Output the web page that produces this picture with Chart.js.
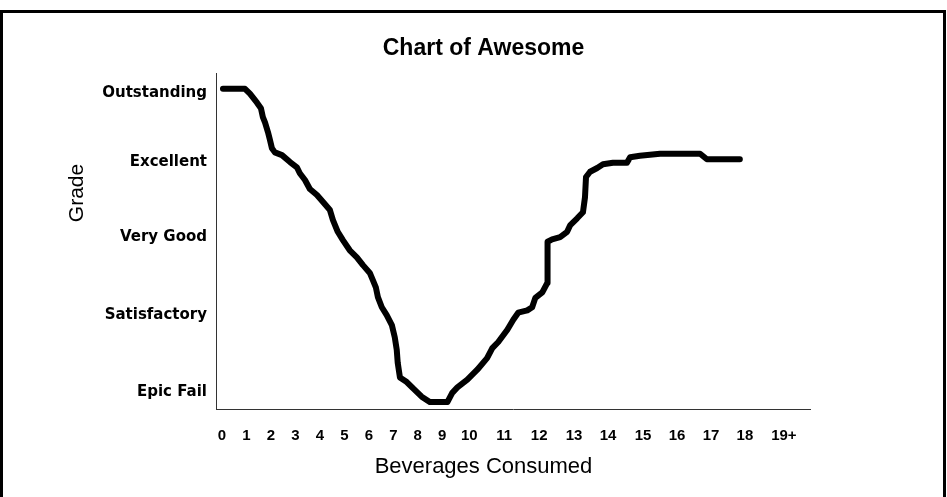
<!DOCTYPE html>
<html>
<head>
<meta charset="utf-8">
<title>Chart of Awesome</title>
<script src="https://cdn.jsdelivr.net/npm/chart.js@4.4.1/dist/chart.umd.min.js"></script>
<style>
  html, body { margin: 0; padding: 0; background: #fff; }
  canvas { display: block; }
</style>
</head>
<body>
<canvas id="awesome" width="947" height="497"></canvas>
<script>
// points: beverages (x) against grade (y, 0 = Epic Fail ... 4 = Outstanding)
const beverages = [
  0.04, 0.94, 1.14, 1.43, 1.59, 1.67, 1.76, 1.88, 1.96, 2.04, 2.16, 2.45, 2.78, 3.06, 3.18, 3.39,
  3.59, 3.88, 4.12, 4.41, 4.53, 4.73, 4.94, 5.22, 5.51, 5.76, 6.04, 6.16, 6.29, 6.37, 6.53, 6.73,
  6.94, 7.06, 7.14, 7.18, 7.27, 7.55, 7.80, 8.16, 8.49, 9.19, 9.37, 9.56, 9.93, 10.23, 10.51, 10.66,
  10.83, 11.09, 11.26, 11.40, 11.66, 11.80, 11.89, 12.09, 12.23, 12.24, 12.37, 12.60, 12.80, 12.89,
  13.09, 13.26, 13.32, 13.35, 13.47, 13.68, 13.85, 14.14, 14.54, 14.63, 14.91, 15.50, 16.68, 16.88, 17.85
];
const grades = [
  4.06, 4.06, 3.99, 3.86, 3.78, 3.65, 3.57, 3.43, 3.32, 3.20, 3.14, 3.10, 3.00, 2.93, 2.85, 2.76,
  2.64, 2.56, 2.47, 2.36, 2.23, 2.07, 1.96, 1.83, 1.74, 1.64, 1.54, 1.45, 1.35, 1.23, 1.10, 1.00,
  0.87, 0.71, 0.55, 0.38, 0.19, 0.13, 0.05, -0.06, -0.13, -0.13, -0.01, 0.06, 0.16, 0.29, 0.44, 0.57,
  0.65, 0.81, 0.94, 1.03, 1.06, 1.10, 1.22, 1.29, 1.41, 1.94, 1.97, 2.00, 2.07, 2.16, 2.25, 2.33,
  2.53, 2.80, 2.87, 2.92, 2.97, 2.99, 2.99, 3.07, 3.09, 3.12, 3.12, 3.04, 3.04
];
const drinkLabels = ['0', '1', '2', '3', '4', '5', '6', '7', '8', '9', '10',
  '11', '12', '13', '14', '15', '16', '17', '18', '19+'];
const gradeLabels = ['Epic Fail', 'Satisfactory', 'Very Good', 'Excellent', 'Outstanding'];

// the original axes are drawn by hand, so the unit steps are not all the same size.
// this linear scale lets every unit step have its own width.
class UnevenScale extends Chart.LinearScale {
  offsetOf(v) {
    const sizes = this.options.unitSizes;
    if (v <= 0) return v * sizes[0];
    let acc = 0;
    for (let i = 0; i < sizes.length; i++) {
      if (v <= i + 1) return acc + (v - i) * sizes[i];
      acc += sizes[i];
    }
    return acc + (v - sizes.length) * sizes[sizes.length - 1];
  }
  getPixelForValue(value) {
    if (value === null || value === undefined) return NaN;
    const a = this.offsetOf(this.min);
    const b = this.offsetOf(this.max);
    return this.getPixelForDecimal((this.offsetOf(value) - a) / (b - a));
  }
}
UnevenScale.id = 'uneven';
UnevenScale.defaults = Chart.LinearScale.defaults;
Chart.register(UnevenScale);

const outerFrame = {
  id: 'outerFrame',
  afterDraw(chart) {
    const ctx = chart.ctx;
    ctx.save();
    ctx.strokeStyle = '#000';
    ctx.lineWidth = 3;
    ctx.strokeRect(1.5, 11.5, 943, 600);
    // y axis caption sits higher than the axis middle in the original
    ctx.fillStyle = '#000';
    ctx.font = '21px "Liberation Sans", Arial, sans-serif';
    ctx.textAlign = 'center';
    ctx.textBaseline = 'middle';
    ctx.translate(77, 193);
    ctx.rotate(-Math.PI / 2);
    ctx.fillText('Grade', 0, 0);
    ctx.restore();
  }
};

new Chart(document.getElementById('awesome'), {
  type: 'line',
  data: {
    datasets: [{
      label: 'Awesome',
      data: beverages.map((b, i) => ({ x: b, y: grades[i] })),
      borderColor: '#000',
      borderWidth: 6,
      borderCapStyle: 'round',
      borderJoinStyle: 'round',
      pointRadius: 0,
      tension: 0,
      fill: false
    }]
  },
  options: {
    responsive: false,
    animation: false,
    layout: { padding: { left: 20, right: 0, top: 0, bottom: 0 } },
    plugins: {
      legend: { display: false },
      tooltip: { enabled: false },
      title: {
        display: true,
        text: 'Chart of Awesome',
        color: '#000',
        font: { family: '"Liberation Sans", Arial, sans-serif', size: 23, weight: 'bold' },
        padding: { top: 35.2, bottom: 10.2 }
      },
      subtitle: {
        display: true,
        position: 'bottom',
        text: 'Beverages Consumed',
        color: '#000',
        font: { family: '"Liberation Sans", Arial, sans-serif', size: 22, weight: 'normal' },
        padding: { top: 0, bottom: 17 }
      }
    },
    scales: {
      x: {
        type: 'uneven',
        min: -0.245,
        max: 19.67,
        unitSizes: [24.5, 24.5, 24.5, 24.5, 24.5, 24.5, 24.5, 24.5, 24.5, 27, 35, 35, 35, 34, 35, 34, 34, 34, 39],
        grid: { display: false, drawTicks: false },
        border: { display: true, color: '#333', width: 1 },
        afterBuildTicks: (s) => { s.ticks = drinkLabels.map((_, i) => ({ value: i })); },
        afterFit: (s) => { s.height = 44.6; },
        ticks: {
          autoSkip: false,
          maxRotation: 0,
          padding: 18,
          color: '#000',
          font: { family: '"Liberation Sans", Arial, sans-serif', size: 15, weight: 'bold' },
          callback: (v) => drinkLabels[v]
        }
      },
      y: {
        type: 'uneven',
        min: -0.22,
        max: 4.29,
        unitSizes: [77, 78, 75, 69],
        grid: { display: false, drawTicks: false },
        border: { display: true, color: '#333', width: 1 },
        afterBuildTicks: (s) => { s.ticks = gradeLabels.map((_, i) => ({ value: i })); },
        afterFit: (s) => { s.width = 196; },
        ticks: {
          autoSkip: false,
          padding: 9,
          color: '#000',
          font: { family: '"DejaVu Sans", Verdana, sans-serif', size: 15, weight: 'bold' },
          callback: (v) => gradeLabels[v]
        }
      },
      // empty strip on the right so the plot ends where the original's x axis ends
      spare: {
        type: 'linear',
        position: 'right',
        display: true,
        grid: { display: false },
        border: { display: false },
        ticks: { display: false },
        afterFit: (s) => { s.width = 137; }
      }
    }
  },
  plugins: [outerFrame]
});
</script>
</body>
</html>
